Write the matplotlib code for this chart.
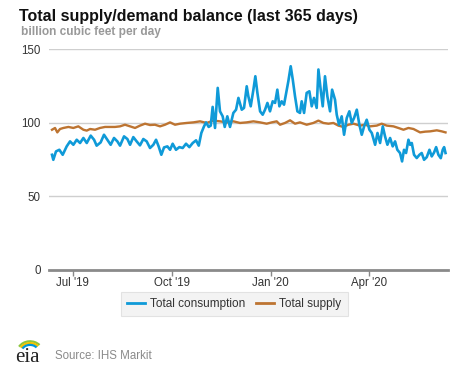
import matplotlib
matplotlib.use("Agg")
import matplotlib.pyplot as plt
import matplotlib.dates as mdates
from matplotlib.patches import Arc
from matplotlib.lines import Line2D
from datetime import datetime
import numpy as np

plt.rcParams['font.family'] = ['Liberation Sans', 'DejaVu Sans']

start_date = datetime(2019, 6, 12)

consumption_days = [0, 1.2, 3.7, 6.8, 9.9, 13.6, 16.7, 19.8, 22.9, 26.0, 29.1, 32.2, 35.9, 39.0, 41.4,
                    45.1, 48.2, 51.3, 54.4, 57.5, 60.6, 63.1, 66.8, 69.9, 72.4, 75.4, 78.5, 81.6, 84.7,
                    87.8, 90.9, 94.0, 96.5, 98.9, 101.4, 103.9, 107.0, 109.5, 111.9, 115.0, 118.1, 121.2,
                    124.3, 127.4, 130.5, 133.6, 136.1, 138.5, 141.0, 142.9, 145.3, 147.2, 149.0, 151.2,
                    153.7, 155.8, 158.3, 160.2, 162.6, 165.1, 168.2, 170.7, 172.9, 176.0, 178.1, 180.6,
                    182.1, 184.3, 186.8, 188.6, 190.5, 193.0, 195.4, 197.6, 199.8, 202.2, 204.7, 206.9,
                    209.0, 210.9, 213.0, 215.2, 217.7, 219.2, 221.4, 223.3, 225.4, 227.6, 230.0, 231.6,
                    233.8, 236.2, 238.7, 240.9, 243.0, 245.5, 247.1, 249.2, 251.1, 253.2, 255.4, 257.9,
                    259.8, 262.5, 264.1, 266.2, 268.7, 270.9, 273.4, 275.8, 278.0, 280.2, 282.7, 285.1,
                    287.3, 289.5, 291.9, 294.4, 296.6, 299.7, 301.9, 304.3, 306.8, 308.9, 311.1, 313.6,
                    316.0, 318.2, 320.3, 322.8, 324.7, 326.5, 328.4, 330.6, 332.1, 333.7, 335.8, 338.3,
                    340.8, 342.9, 345.1, 347.6, 350.1, 352.2, 354.4, 356.3, 358.4, 360.6, 362.4, 363.7,
                    365.0]
consumption = [78.2, 74.8, 80.5, 81.6, 78.2, 83.9, 87.3, 85.0, 88.4, 86.2, 89.6, 86.2, 91.2, 88.4, 84.4,
               86.6, 91.8, 88.4, 85.0, 89.6, 87.3, 84.4, 90.7, 88.9, 85.0, 90.2, 87.3, 84.6, 88.9,
               87.3, 82.8, 85.0, 88.4, 83.9, 78.2, 83.2, 83.9, 81.6, 85.7, 81.6, 83.4, 82.8,
               85.7, 83.4, 86.2, 88.0, 84.4, 93.0, 97.5, 100.2, 97.1, 98.0, 110.7, 96.4,
               123.6, 107.7, 104.3, 97.1, 104.3, 97.1, 106.6, 108.8, 116.8, 108.8, 110.0, 124.7,
               117.9, 111.1, 122.4, 131.5, 120.2, 107.7, 105.4, 108.8, 113.4, 107.7, 114.5, 113.4,
               122.4, 111.1, 114.5, 112.2, 122.4, 128.1, 138.3, 129.3, 117.9, 107.7, 106.6, 114.5,
               106.6, 120.2, 121.3, 111.1, 116.8, 110.0, 136.1, 122.4, 111.1, 131.5, 117.9, 107.7,
               122.4, 115.6, 105.4, 98.6, 104.3, 91.8, 103.2, 107.7, 99.8, 103.2, 108.8, 98.6,
               91.8, 97.5, 102.0, 95.2, 93.0, 85.0, 93.0, 86.2, 97.5, 90.7, 85.0, 89.6,
               83.9, 87.3, 81.6, 79.4, 73.7, 81.6, 79.4, 88.4, 85.0, 86.2, 78.2, 76.0,
               78.2, 79.4, 74.8, 76.6, 81.6, 77.1, 79.8, 83.4, 78.2, 75.9, 81.6, 83.4,
               79.4]

supply_days = [0, 2.8, 4.9, 7.4, 10.5, 15.2, 19.8, 24.4, 29.1, 32.2, 35.3, 39.9, 44.5, 49.2, 53.8, 58.4,
               63.1, 67.7, 72.4, 77.0, 81.6, 86.3, 90.9, 95.5, 100.2, 104.8, 109.5, 114.1, 118.7, 124.9,
               131.1, 137.3, 143.5, 149.7, 155.8, 162.0, 168.2, 174.4, 180.6, 186.8, 193.0, 199.1, 203.8,
               208.4, 211.5, 216.1, 220.8, 225.4, 230.0, 236.2, 242.4, 247.1, 251.7, 256.4, 261.0,
               265.6, 270.3, 274.9, 279.6, 285.7, 290.4, 295.0, 301.2, 305.8, 310.5, 316.7, 321.3,
               326.0, 330.6, 335.3, 341.4, 346.1, 350.7, 356.9, 361.5, 365.0]
supply = [95.2, 96.4, 93.4, 95.7, 96.4, 97.1, 96.4, 97.5, 95.2, 94.6, 95.7, 95.2, 96.4, 97.1, 97.1, 97.1,
          97.5, 98.6, 97.5, 96.4, 98.0, 99.3, 98.4, 98.6, 97.5, 98.6, 100.2, 98.6, 99.3, 99.8,
          100.2, 100.9, 99.8, 101.4, 100.9, 100.2, 100.9, 99.8, 100.2, 100.9, 100.2, 99.3, 100.2,
          100.9, 98.6, 99.8, 101.6, 99.3, 100.2, 98.6, 99.8, 101.4, 99.8, 99.3, 99.8,
          98.0, 97.1, 98.6, 99.3, 98.0, 98.6, 97.5, 98.0, 99.3, 98.0, 97.5, 96.4,
          95.2, 96.4, 95.7, 93.4, 93.9, 94.1, 94.8, 94.1, 93.4]

y_ticks = [0, 50, 100, 150]
x_tick_dates = [datetime(2019, 7, 1), datetime(2019, 10, 1), datetime(2020, 1, 1), datetime(2020, 4, 1)]
x_tick_labels = ["Jul '19", "Oct '19", "Jan '20", "Apr '20"]

title = "Total supply/demand balance (last 365 days)"
subtitle = "billion cubic feet per day"
series_names = ["Total consumption", "Total supply"]
source = "Source: IHS Markit"

blue = "#0f9ad8"
orange = "#bd7431"

W, H = 477, 367
fig = plt.figure(figsize=(W / 100, H / 100), dpi=100)
ax = fig.add_axes([49 / W, 1 - 270 / H, (448 - 49) / W, (270 - 49) / H])

t0 = mdates.date2num(start_date)
cx = t0 + np.array(consumption_days)
sx = t0 + np.array(supply_days)

for yv in y_ticks[1:]:
    ax.axhline(yv, color="#cfcfcf", lw=1.0, zorder=1)

ax.plot(sx, supply, color=orange, lw=1.7, zorder=3, solid_joinstyle='round')
ax.plot(cx, consumption, color=blue, lw=1.9, zorder=4, solid_joinstyle='round')

ax.set_ylim(0, 150)
ax.set_xlim(t0 - 2.8, t0 + 367.3)
ax.set_yticks(y_ticks)
ax.set_yticklabels([str(v) for v in y_ticks], color="#333333", fontsize=8.3)
ax.tick_params(axis='y', length=0, pad=6)
ax.set_xticks([mdates.date2num(d) for d in x_tick_dates])
ax.set_xticklabels(x_tick_labels, color="#333333", fontsize=8.3)
ax.tick_params(axis='x', length=4, width=1, color="#888888", pad=1)
for s in ['left', 'right', 'top']:
    ax.spines[s].set_visible(False)
ax.spines['bottom'].set_color("#8a8a8a")
ax.spines['bottom'].set_linewidth(2)
ax.spines['bottom'].set_zorder(5)

fig.text(19 / W, 1 - 16 / H, title, fontsize=11.5, fontweight='bold', color="#111111", va='center', ha='left')
fig.text(21 / W, 1 - 32 / H, subtitle, fontsize=8.6, fontweight='bold', color="#999999", va='center', ha='left')

handles = [Line2D([], [], color=blue, lw=2), Line2D([], [], color=orange, lw=2)]
leg = fig.legend(handles, series_names, loc='center', bbox_to_anchor=(234.5 / W, 1 - 304 / H),
                 ncol=2, frameon=True, fontsize=8.5, handlelength=1.5, handletextpad=0.45,
                 columnspacing=0.9, borderpad=0.55, fancybox=False)
leg.get_frame().set_facecolor("#f0f0f0")
leg.get_frame().set_edgecolor("#dddddd")
leg.get_frame().set_linewidth(0.8)
for txt in leg.get_texts():
    txt.set_color("#333333")

fig.text(55 / W, 1 - 356 / H, source, fontsize=8.3, color="#8a8a8a", va='center', ha='left')

# eia logo
fig.text(15 / W, 1 - 357 / H, "eia", fontsize=15, family='Liberation Serif', color="#222222", va='center', ha='left')
lax = fig.add_axes([14 / W, 1 - 352 / H, 28 / W, 14 / H])
lax.set_xlim(0, 28)
lax.set_ylim(0, 14)
lax.axis('off')
for r, c in [(13, "#8cc63f"), (11, "#f4c400"), (9, "#0096d7")]:
    lax.add_patch(Arc((16, -1), 2 * r, 2 * r * 0.9, theta1=40, theta2=150, color=c, lw=1.6))

fig.savefig("out.png", dpi=100)
